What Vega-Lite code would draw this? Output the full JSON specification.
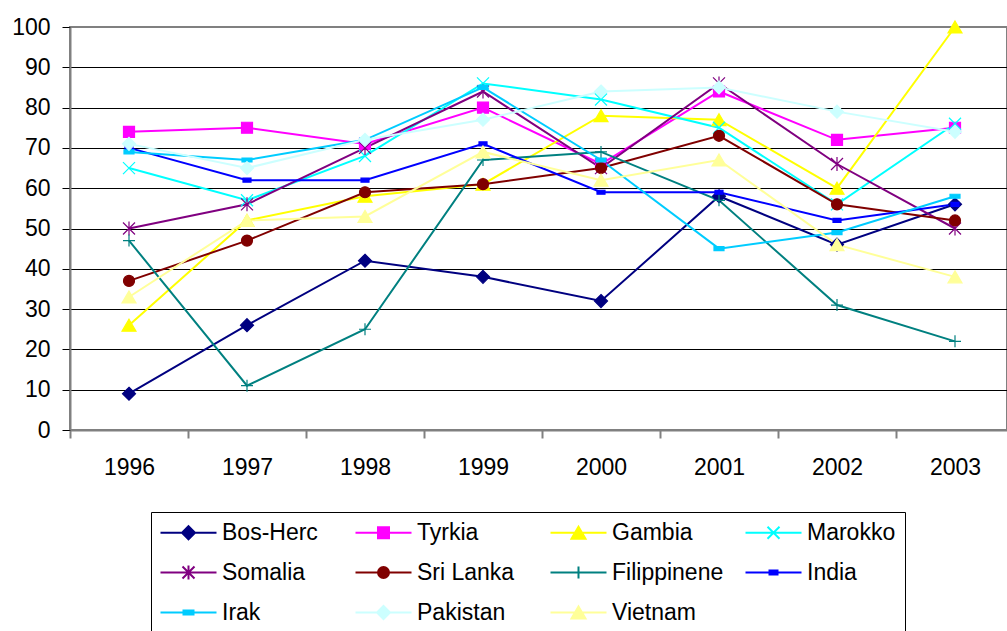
{
  "$schema": "https://vega.github.io/schema/vega-lite/v6.json",
  "width": 937,
  "height": 403,
  "autosize": {"type": "none"},
  "padding": {"left": 70, "top": 27, "right": 0, "bottom": 201},
  "background": "white",
  "config": {
    "font": "Liberation Sans",
    "view": {"stroke": "#808080", "strokeWidth": 2}
  },
  "params": [
    {
      "name": "markers",
      "value": {
        "Bos-Herc": "m0,-6.5l6.5,6.5l-6.5,6.5l-6.5,-6.5z",
        "Tyrkia": "m-5.5,-5.5l11,0l0,11l-11,0z",
        "Gambia": "m0,-6l7,12l-14,0z",
        "Marokko": "m-6,-6l12,12m-12,0l12,-12",
        "Somalia": "m-6,-6l12,12m-12,0l12,-12m-6,-1l0,14",
        "Sri Lanka": "m-5.5,0a5.5,5.5,0,1,0,11,0a5.5,5.5,0,1,0,-11,0z",
        "Filippinene": "m-6,0l12,0m-6,-6l0,12",
        "India": "m-4,-2l8,0l0,4l-8,0z",
        "Irak": "m-5,-2l10,0l0,4l-10,0z",
        "Pakistan": "m0,-6.5l6.5,6.5l-6.5,6.5l-6.5,-6.5z",
        "Vietnam": "m0,-6l7,12l-14,0z"
      }
    }
  ],
  "data": {
    "values": [
      {"country": "Bos-Herc", "year": "1996", "value": 9},
      {"country": "Bos-Herc", "year": "1997", "value": 26},
      {"country": "Bos-Herc", "year": "1998", "value": 42},
      {"country": "Bos-Herc", "year": "1999", "value": 38},
      {"country": "Bos-Herc", "year": "2000", "value": 32},
      {"country": "Bos-Herc", "year": "2001", "value": 58},
      {"country": "Bos-Herc", "year": "2002", "value": 46},
      {"country": "Bos-Herc", "year": "2003", "value": 56},
      {"country": "Tyrkia", "year": "1996", "value": 74},
      {"country": "Tyrkia", "year": "1997", "value": 75},
      {"country": "Tyrkia", "year": "1998", "value": 71},
      {"country": "Tyrkia", "year": "1999", "value": 80},
      {"country": "Tyrkia", "year": "2000", "value": 66},
      {"country": "Tyrkia", "year": "2001", "value": 84},
      {"country": "Tyrkia", "year": "2002", "value": 72},
      {"country": "Tyrkia", "year": "2003", "value": 75},
      {"country": "Gambia", "year": "1996", "value": 26},
      {"country": "Gambia", "year": "1997", "value": 52},
      {"country": "Gambia", "year": "1998", "value": 58},
      {"country": "Gambia", "year": "1999", "value": 61},
      {"country": "Gambia", "year": "2000", "value": 78},
      {"country": "Gambia", "year": "2001", "value": 77},
      {"country": "Gambia", "year": "2002", "value": 60},
      {"country": "Gambia", "year": "2003", "value": 100},
      {"country": "Marokko", "year": "1996", "value": 65},
      {"country": "Marokko", "year": "1997", "value": 57},
      {"country": "Marokko", "year": "1998", "value": 68},
      {"country": "Marokko", "year": "1999", "value": 86},
      {"country": "Marokko", "year": "2000", "value": 82},
      {"country": "Marokko", "year": "2001", "value": 75},
      {"country": "Marokko", "year": "2002", "value": 56},
      {"country": "Marokko", "year": "2003", "value": 76},
      {"country": "Somalia", "year": "1996", "value": 50},
      {"country": "Somalia", "year": "1997", "value": 56},
      {"country": "Somalia", "year": "1998", "value": 70},
      {"country": "Somalia", "year": "1999", "value": 84},
      {"country": "Somalia", "year": "2000", "value": 65},
      {"country": "Somalia", "year": "2001", "value": 86},
      {"country": "Somalia", "year": "2002", "value": 66},
      {"country": "Somalia", "year": "2003", "value": 50},
      {"country": "Sri Lanka", "year": "1996", "value": 37},
      {"country": "Sri Lanka", "year": "1997", "value": 47},
      {"country": "Sri Lanka", "year": "1998", "value": 59},
      {"country": "Sri Lanka", "year": "1999", "value": 61},
      {"country": "Sri Lanka", "year": "2000", "value": 65},
      {"country": "Sri Lanka", "year": "2001", "value": 73},
      {"country": "Sri Lanka", "year": "2002", "value": 56},
      {"country": "Sri Lanka", "year": "2003", "value": 52},
      {"country": "Filippinene", "year": "1996", "value": 47},
      {"country": "Filippinene", "year": "1997", "value": 11},
      {"country": "Filippinene", "year": "1998", "value": 25},
      {"country": "Filippinene", "year": "1999", "value": 67},
      {"country": "Filippinene", "year": "2000", "value": 69},
      {"country": "Filippinene", "year": "2001", "value": 57},
      {"country": "Filippinene", "year": "2002", "value": 31},
      {"country": "Filippinene", "year": "2003", "value": 22},
      {"country": "India", "year": "1996", "value": 70},
      {"country": "India", "year": "1997", "value": 62},
      {"country": "India", "year": "1998", "value": 62},
      {"country": "India", "year": "1999", "value": 71},
      {"country": "India", "year": "2000", "value": 59},
      {"country": "India", "year": "2001", "value": 59},
      {"country": "India", "year": "2002", "value": 52},
      {"country": "India", "year": "2003", "value": 56},
      {"country": "Irak", "year": "1996", "value": 69},
      {"country": "Irak", "year": "1997", "value": 67},
      {"country": "Irak", "year": "1998", "value": 72},
      {"country": "Irak", "year": "1999", "value": 85},
      {"country": "Irak", "year": "2000", "value": 67},
      {"country": "Irak", "year": "2001", "value": 45},
      {"country": "Irak", "year": "2002", "value": 49},
      {"country": "Irak", "year": "2003", "value": 58},
      {"country": "Pakistan", "year": "1996", "value": 71},
      {"country": "Pakistan", "year": "1997", "value": 65},
      {"country": "Pakistan", "year": "1998", "value": 72},
      {"country": "Pakistan", "year": "1999", "value": 77},
      {"country": "Pakistan", "year": "2000", "value": 84},
      {"country": "Pakistan", "year": "2001", "value": 85},
      {"country": "Pakistan", "year": "2002", "value": 79},
      {"country": "Pakistan", "year": "2003", "value": 74},
      {"country": "Vietnam", "year": "1996", "value": 33},
      {"country": "Vietnam", "year": "1997", "value": 52},
      {"country": "Vietnam", "year": "1998", "value": 53},
      {"country": "Vietnam", "year": "1999", "value": 69},
      {"country": "Vietnam", "year": "2000", "value": 62},
      {"country": "Vietnam", "year": "2001", "value": 67},
      {"country": "Vietnam", "year": "2002", "value": 46},
      {"country": "Vietnam", "year": "2003", "value": 38}
    ]
  },
  "encoding": {
    "x": {
      "field": "year",
      "type": "ordinal",
      "bandPosition": 0.5,
      "scale": {"type": "band", "paddingInner": 0, "paddingOuter": 0, "range": [0, 944]},
      "axis": {
        "title": null,
        "grid": false,
        "tickBand": "extent",
        "domainColor": "#808080",
        "domainWidth": 2,
        "tickColor": "#808080",
        "tickWidth": 2,
        "tickSize": 8,
        "labelFontSize": 23,
        "labelColor": "black",
        "labelPadding": 18,
        "labelAngle": 0
      }
    },
    "y": {
      "field": "value",
      "type": "quantitative",
      "scale": {"domain": [0, 100], "nice": false, "zero": true},
      "axis": {
        "title": null,
        "values": [0, 10, 20, 30, 40, 50, 60, 70, 80, 90, 100],
        "grid": true,
        "gridColor": {"condition": {"test": "datum.value === 100", "value": "#808080"}, "value": "black"},
        "gridWidth": 1,
        "gridOpacity": 1,
        "domainColor": "#808080",
        "domainWidth": 2,
        "tickColor": "black",
        "tickWidth": 1,
        "tickSize": 8,
        "labelFontSize": 23,
        "labelColor": "black",
        "labelPadding": 12
      }
    },
    "color": {
      "field": "country",
      "type": "nominal",
      "scale": {
        "domain": ["Bos-Herc", "Tyrkia", "Gambia", "Marokko", "Somalia", "Sri Lanka", "Filippinene", "India", "Irak", "Pakistan", "Vietnam"],
        "range": ["#000080", "#FF00FF", "#FFFF00", "#00FFFF", "#800080", "#800000", "#008080", "#0000FF", "#00CCFF", "#CCFFFF", "#FFFF99"]
      },
      "legend": {
        "title": null,
        "orient": "none",
        "legendX": 81,
        "legendY": 485,
        "columns": 4,
        "direction": "horizontal",
        "gridAlign": "all",
        "columnPadding": 17,
        "rowPadding": 16,
        "padding": 9,
        "strokeColor": "black",
        "fillColor": "white",
        "labelFontSize": 23,
        "labelColor": "black",
        "labelLimit": 300,
        "labelOffset": 39,
        "symbolSize": 4,
        "symbolStrokeWidth": 2,
        "encode": {
          "symbols": {
            "update": {
              "shape": {"signal": "'M-11,0L45,0M17,0' + markers[datum.value]"},
              "size": {"value": 4},
              "fill": {"signal": "scale('color', datum.value)"},
              "stroke": {"signal": "scale('color', datum.value)"},
              "strokeWidth": {"value": 2},
              "opacity": {"value": 1},
              "fillOpacity": {"value": 1},
              "strokeOpacity": {"value": 1}
            }
          }
        }
      }
    }
  },
  "layer": [
    {
      "mark": {"type": "line", "strokeWidth": 2},
      "encoding": {}
    },
    {
      "mark": {
        "type": "point",
        "filled": true,
        "size": 4,
        "strokeWidth": 1.2,
        "opacity": 1,
        "shape": {"expr": "markers[datum.country]"},
        "stroke": {"expr": "scale('color', datum.country)"}
      },
      "encoding": {}
    }
  ]
}
